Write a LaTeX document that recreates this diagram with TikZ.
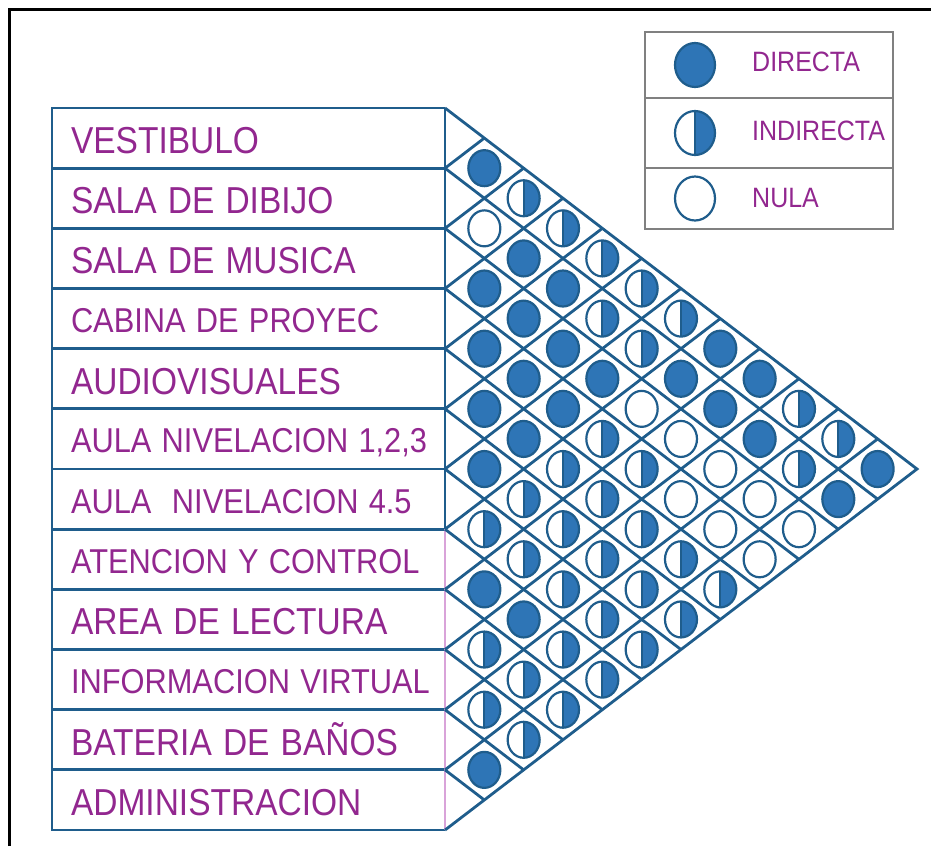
\documentclass[tikz,border=0pt]{standalone}
\usepackage{fontspec}
\setmainfont{Liberation Sans}
\usepackage{graphicx}
\usetikzlibrary{positioning, shapes.geometric}

\definecolor{gridblue}{HTML}{1F5D8C}
\definecolor{markblue}{HTML}{2E75B6}
\definecolor{labelpurple}{HTML}{92278F}
\definecolor{edgepink}{HTML}{D9A3D9}
\definecolor{legendgray}{HTML}{808080}

\newcommand{\stretchtxt}[1]{\scalebox{1}[1.12]{#1}}

\begin{document}
\begin{tikzpicture}[
    x=1pt, y=-1pt,
    node distance=0pt,
    rowbox/.style={rectangle, outer sep=0pt, inner xsep=19pt, inner ysep=0pt, minimum height=60.17pt, text width=355pt, align=left, text=labelpurple},
    bigtxt/.style={font=\fontsize{33.5}{36}\selectfont, text height=31pt, text depth=0pt},
    smalltxt/.style={font=\fontsize{30.8}{33}\selectfont, text height=28pt, text depth=0pt},
    gridline/.style={draw=gridblue, line width=2.8pt},
    edgeline/.style={draw=edgepink, line width=1.5pt},
    relmark/.style={ellipse, draw=gridblue, line width=2.2pt, minimum width=32pt, minimum height=36pt, inner sep=0pt, outer sep=0pt},
    rel0/.style={relmark, fill=white},
    rel1/.style={relmark, fill=white, path picture={
        \fill[markblue] (path picture bounding box.north) rectangle (path picture bounding box.south east);
        \draw[gridblue, line width=2.2pt] (path picture bounding box.north) -- (path picture bounding box.south);}},
    rel2/.style={relmark, fill=markblue},
    legrow/.style={rectangle, draw=legendgray, line width=1.6pt, minimum width=248pt, inner sep=0pt, outer sep=0pt},
    legmark/.style={minimum width=40pt, minimum height=44pt},
    legtxt/.style={anchor=west, text=labelpurple, font=\fontsize{25}{28}\selectfont, inner sep=0pt},
]
\useasboundingbox (0,0) rectangle (931,846);

% outer frame
\draw[line width=3pt] (9.5,846) -- (9.5,9) -- (931,9);

% list of spaces
\node[rowbox, bigtxt, anchor=north west] (r1) at (52,108) {\stretchtxt{VESTIBULO}};
\node[rowbox, bigtxt, below=of r1] (r2) {\stretchtxt{SALA DE DIBIJO}};
\node[rowbox, bigtxt, below=of r2] (r3) {\stretchtxt{SALA DE MUSICA}};
\node[rowbox, smalltxt, below=of r3] (r4) {\stretchtxt{CABINA DE PROYEC}};
\node[rowbox, bigtxt, below=of r4] (r5) {\stretchtxt{AUDIOVISUALES}};
\node[rowbox, smalltxt, below=of r5] (r6) {\stretchtxt{AULA NIVELACION 1,2,3}};
\node[rowbox, smalltxt, below=of r6] (r7) {\stretchtxt{AULA~ NIVELACION 4.5}};
\node[rowbox, smalltxt, below=of r7] (r8) {\stretchtxt{ATENCION Y CONTROL}};
\node[rowbox, bigtxt, below=of r8] (r9) {\stretchtxt{AREA DE LECTURA}};
\node[rowbox, smalltxt, below=of r9] (r10) {\stretchtxt{INFORMACION VIRTUAL}};
\node[rowbox, bigtxt, below=of r10] (r11) {\stretchtxt{BATERIA DE BAÑOS}};
\node[rowbox, bigtxt, below=of r11] (r12) {\stretchtxt{ADMINISTRACION}};

% table outline
\draw[gridline] (r1.north east) -- (r1.north west) -- (r12.south west) -- (r12.south east);
\foreach \k in {1,...,11}
    \draw[gridline] (r\k.south west) -- (r\k.south east);
\draw[gridline] (r1.north east) -- (r7.south east);
\draw[edgeline] (r8.north east) -- (r12.south east);

% diagonal grid
\coordinate (b0) at (r1.north east);
\foreach \k in {1,...,12}
    \coordinate (b\k) at (r\k.south east);
\coordinate (apex) at (917,469);
\draw[gridline, line join=miter] (b0) -- (apex) -- (b12);
\foreach \k in {1,...,11} {
    \draw[gridline] (b\k) -- ++({(12-\k)*39.33},{(12-\k)*30.085});
    \draw[gridline] (b\k) -- ++({\k*39.33},{-\k*30.085});
}

% relations: 2 directa, 1 indirecta, 0 nula
\foreach \i/\vals in {1/{2,1,1,1,1,1,2,2,1,1,2}, 2/{0,2,2,1,1,2,2,2,1,2},
        3/{2,2,2,2,0,0,0,0,0}, 4/{2,2,2,1,1,0,0,0}, 5/{2,2,1,1,1,1,1},
        6/{2,1,1,1,1,1}, 7/{1,1,1,1,1}, 8/{2,2,1,1}, 9/{1,1,1}, 10/{1,1}, 11/{2}}
    \foreach \v [count=\d] in \vals {
        \pgfmathtruncatemacro\j{\i+\d}
        \node[rel\v] (c\i-\j) at ({445+\d*39.33},{108+(\i+\j-1)*30.085}) {};
    }

% legend
\node[legrow, minimum height=66pt, anchor=north west] (leg1) at (645,32) {};
\node[legrow, minimum height=70pt, below=of leg1] (leg2) {};
\node[legrow, minimum height=61pt, below=of leg2] (leg3) {};
\node[rel2, legmark] (m1) at ([xshift=50pt]leg1.west) {};
\node[rel1, legmark] (m2) at ([xshift=50pt]leg2.west) {};
\node[rel0, legmark] (m3) at ([xshift=50pt]leg3.west) {};
\node[legtxt] (t1) at ([xshift=107pt,yshift=3pt]leg1.west) {\stretchtxt{DIRECTA}};
\node[legtxt] (t2) at ([xshift=107pt,yshift=2pt]leg2.west) {\stretchtxt{INDIRECTA}};
\node[legtxt] (t3) at ([xshift=107pt]leg3.west) {\stretchtxt{NULA}};

\end{tikzpicture}
\end{document}
